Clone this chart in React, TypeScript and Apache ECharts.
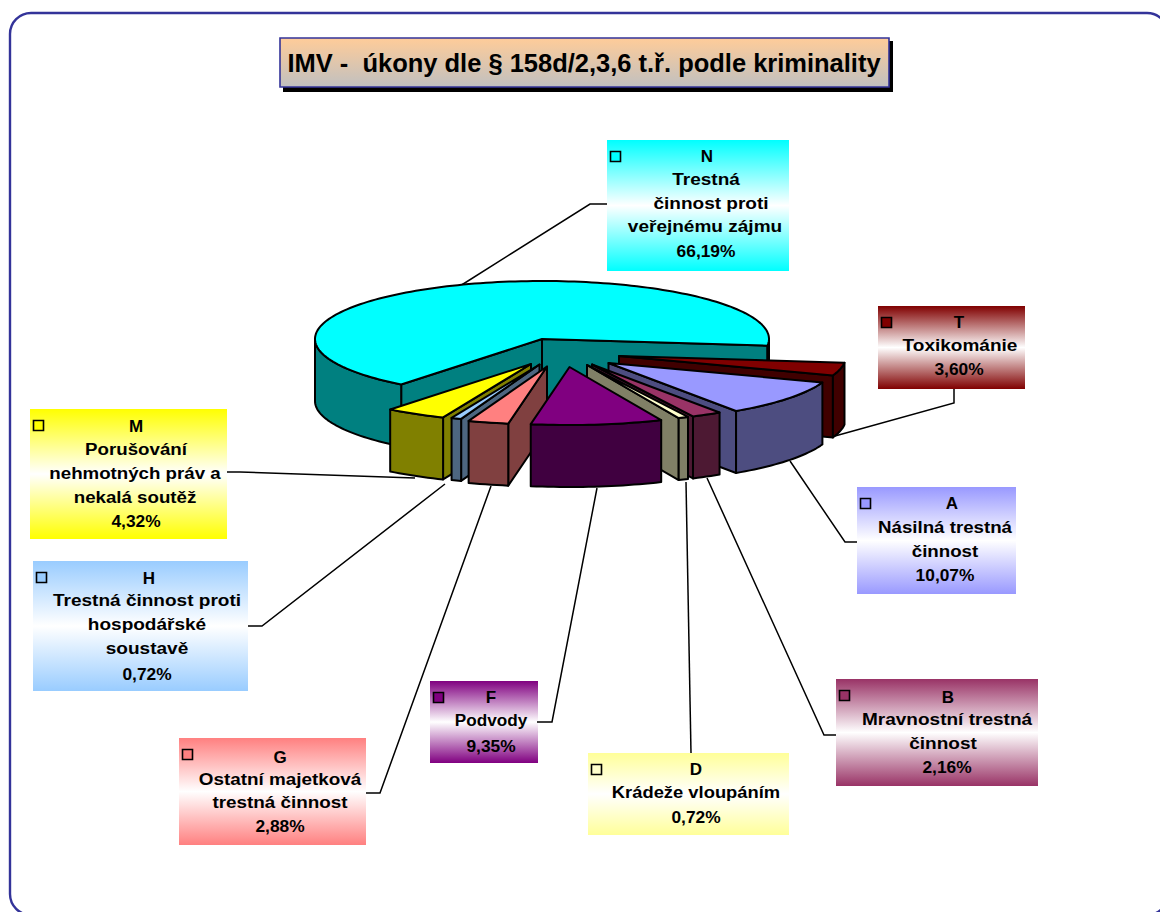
import React, { useEffect, useRef } from "react";
import * as echarts from "echarts";

// ---- data, in the pie's clockwise order ----
const codes = ["N", "T", "A", "B", "D", "F", "G", "H", "M"];
const shares = [66.19, 3.6, 10.07, 2.16, 0.72, 9.35, 2.88, 0.72, 4.32];
const shareLabels = ["66,19%", "3,60%", "10,07%", "2,16%", "0,72%", "9,35%", "2,88%", "0,72%", "4,32%"];
const names = [
  ["Trestná", "činnost proti", "veřejnému zájmu"],
  ["Toxikománie"],
  ["Násilná trestná", "činnost"],
  ["Mravnostní trestná", "činnost"],
  ["Krádeže vloupáním"],
  ["Podvody"],
  ["Ostatní majetková", "trestná činnost"],
  ["Trestná činnost proti", "hospodářské", "soustavě"],
  ["Porušování", "nehmotných práv a", "nekalá soutěž"],
];
const titleText = "IMV -  úkony dle § 158d/2,3,6 t.ř. podle kriminality";

// ---- styling and layout ----
const topColors = ["#00FFFF", "#800000", "#9999FF", "#993366", "#FFFFCC", "#800080", "#FF8080", "#99CCFF", "#FFFF00"];
const boxColors = ["#00FFFF", "#800000", "#9999FF", "#993366", "#FFFF99", "#800080", "#FF8080", "#99CCFF", "#FFFF00"];
const sideColors = ["#008080", "#400000", "#4D4D80", "#4D1933", "#808066", "#400040", "#804040", "#4D6680", "#808000"];
const textStretch = [1.12, 1.12, 1.1, 1.12, 1.08, 1.01, 1.11, 1.12, 1.1];
const paintOrder = [0, 1, 2, 3, 4, 8, 7, 6, 5];
const RX = 227, RY = 58, DEPTH = 62, END_OF_FIRST = 6.6;
// where each exploded slice's tip lies on the page
const tips = [[542, 339], [619, 356], [608.5, 363], [592, 364.5], [587, 365], [569.5, 367], [547, 366.5], [539.5, 364.5], [531, 364]];
const boxes = [
  [607, 140, 182, 131], [878, 306, 147, 83], [857, 487, 159, 107], [836, 679, 202, 107], [588, 753, 201, 82],
  [430, 681, 108, 82], [179, 738, 187, 107], [33, 561, 215, 130], [30, 409, 197, 130],
];
const textSpots = [
  [[707, 156], [706, 179], [711, 203], [705, 226], [706, 251]],
  [[959, 322], [960, 345], [959, 369]],
  [[952, 503], [945, 527], [945, 551], [945, 575]],
  [[948, 697], [947, 719], [943, 743], [947, 767]],
  [[696, 769], [696, 792], [696, 817]],
  [[491, 697], [491, 721], [491, 746]],
  [[280, 757], [280, 779], [280, 802], [280, 826]],
  [[149, 578], [147, 600], [147, 624], [147, 648], [147, 674]],
  [[136, 426], [136, 449], [135, 473], [135, 497], [136, 521]],
];
const leaders = [
  [[607, 204], [590, 204], [460, 286]],
  [[954, 389], [954, 403], [835, 436]],
  [[857, 542], [845, 542], [790, 461]],
  [[836, 735], [824, 735], [707, 478]],
  [[691, 753], [686, 482]],
  [[537, 722], [552, 722], [597, 488]],
  [[366, 793], [380, 793], [491, 486]],
  [[248, 626], [262, 626], [445, 484]],
  [[227, 472], [240, 472], [415, 478]],
];

const total = shares.reduce((a, b) => a + b, 0);
const rad = (d: number) => (d * Math.PI) / 180;

function sliceAngles(i: number) {
  if (i === 0) return [END_OF_FIRST - (shares[0] / total) * 360, END_OF_FIRST];
  let before = 0;
  for (let k = 1; k < i; k++) before += shares[k];
  const s = END_OF_FIRST + (before / total) * 360;
  return [s, s + (shares[i] / total) * 360];
}

const rim = (c: number[], a: number, dy = 0) => [c[0] + RX * Math.cos(rad(a)), c[1] + RY * Math.sin(rad(a)) + dy];

function arcPoints(c: number[], a0: number, a1: number, dy = 0) {
  const pts: number[][] = [];
  const n = Math.max(2, Math.ceil(Math.abs(a1 - a0) / 1.5));
  for (let k = 0; k <= n; k++) pts.push(rim(c, a0 + ((a1 - a0) * k) / n, dy));
  return pts;
}

function renderSlice(params: any, api: any) {
  const i = api.value(0) as number;
  const [a0, a1] = sliceAngles(i);
  const c = tips[i];
  const lineStyle = { stroke: "#000", lineWidth: 2, lineJoin: "round" };
  const side = { ...lineStyle, fill: sideColors[i] };
  const children: any[] = [];
  const wall = (a: number) => {
    const p = rim(c, a);
    children.push({
      type: "polygon",
      shape: { points: [c, p, [p[0], p[1] + DEPTH], [c[0], c[1] + DEPTH]] },
      style: side,
    });
  };
  // radial walls that face the viewer
  if (Math.cos(rad(a1)) > 0) wall(a1);
  if (Math.cos(rad(a0)) < 0) wall(a0);
  // outer rim, only where it faces the viewer
  for (const turn of [-360, 0, 360]) {
    const lo = Math.max(a0, turn), hi = Math.min(a1, turn + 180);
    if (hi > lo) {
      children.push({
        type: "polygon",
        shape: { points: [...arcPoints(c, lo, hi), ...arcPoints(c, hi, lo, DEPTH)] },
        style: side,
      });
    }
  }
  children.push({
    type: "polygon",
    shape: { points: [c, ...arcPoints(c, a0, a1)] },
    style: { ...lineStyle, fill: topColors[i] },
  });
  return { type: "group", children };
}

const FONT = 'bold 17px "Liberation Sans", Arial, sans-serif';

function labelGraphics() {
  const out: any[] = [];
  codes.forEach((code, i) => {
    const [x, y, w, h] = boxes[i];
    out.push({
      type: "rect",
      shape: { x, y, width: w, height: h },
      style: {
        fill: new echarts.graphic.LinearGradient(0, 0, 0, 1, [
          { offset: 0, color: boxColors[i] },
          { offset: 0.5, color: "#FFFFFF" },
          { offset: 1, color: boxColors[i] },
        ]),
      },
    });
    out.push({
      type: "rect",
      shape: { x: x + 3.5, y: y + 11.5, width: 10, height: 10 },
      style: { fill: topColors[i], stroke: "#000", lineWidth: 1.6 },
    });
    const lines = [code, ...names[i], shareLabels[i]];
    lines.forEach((t, k) => {
      const [cx, cy] = textSpots[i][k];
      out.push({
        type: "text",
        x: cx,
        y: cy,
        scaleX: k === 0 ? 1 : k === lines.length - 1 ? 1.02 : textStretch[i],
        style: { text: t, font: FONT, fill: "#000", align: "center", verticalAlign: "middle" },
      });
    });
    out.push({
      type: "polyline",
      shape: { points: leaders[i] },
      style: { stroke: "#000", lineWidth: 1.5, fill: "none" },
    });
  });
  return out;
}

export default function App() {
  const ref = useRef<HTMLDivElement>(null);
  useEffect(() => {
    const chart = echarts.init(ref.current!, null, { renderer: "svg", width: 1160, height: 912 });
    chart.setOption({
      animation: false,
      backgroundColor: "#FFFFFF",
      xAxis: { show: false },
      yAxis: { show: false },
      graphic: [
        {
          type: "rect",
          shape: { x: 10, y: 13, width: 1158, height: 902, r: 21 },
          style: { fill: "#FFFFFF", stroke: "#333399", lineWidth: 2.4 },
        },
        { type: "rect", shape: { x: 283, y: 41, width: 610, height: 51 }, style: { fill: "#000" } },
        {
          type: "rect",
          shape: { x: 280, y: 38, width: 609, height: 49 },
          style: {
            fill: new echarts.graphic.LinearGradient(0, 0, 0, 1, [
              { offset: 0, color: "#FFCC99" },
              { offset: 1, color: "#C0C0C0" },
            ]),
            stroke: "#333399",
            lineWidth: 1.6,
          },
        },
        {
          type: "text",
          x: 584,
          y: 63,
          scaleX: 0.98,
          style: {
            text: titleText,
            font: 'bold 26px "Liberation Sans", Arial, sans-serif',
            fill: "#000",
            align: "center",
            verticalAlign: "middle",
          },
        },
        ...labelGraphics(),
      ],
      series: [
        {
          type: "custom",
          coordinateSystem: "none",
          silent: true,
          z: 5,
          data: paintOrder.map((i) => ({ name: codes[i], value: [i, shares[i]] })),
          renderItem: renderSlice,
        },
      ],
    });
    return () => chart.dispose();
  }, []);
  return <div ref={ref} style={{ position: "fixed", left: 0, top: 0, width: 1160, height: 912 }} />;
}
